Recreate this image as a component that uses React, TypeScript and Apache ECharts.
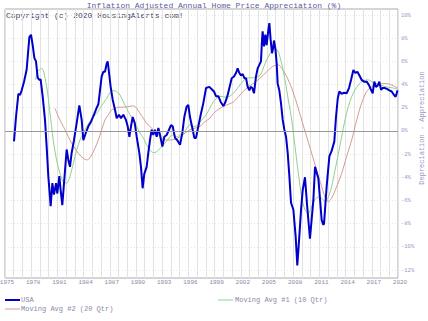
import React, { useEffect, useRef } from "react";
import * as echarts from "echarts";

// USA: inflation adjusted annual home price appreciation (%)
const usaYears = [
  1976.03, 1976.26, 1976.53, 1976.72, 1976.91, 1977.18, 1977.48, 1977.79, 1977.98, 1978.17,
  1978.36, 1978.55, 1978.74, 1978.93, 1979.08, 1979.31, 1979.58, 1979.77, 1979.96, 1980.23,
  1980.42, 1980.61, 1980.84, 1980.99, 1981.22, 1981.37, 1981.56, 1981.79, 1982.06, 1982.25,
  1982.44, 1982.63, 1982.9, 1983.21, 1983.51, 1983.78, 1983.97, 1984.24, 1984.54, 1984.85,
  1985.19, 1985.5, 1985.69, 1985.88, 1986.07, 1986.26, 1986.45, 1986.64, 1986.76, 1986.87,
  1987.1, 1987.33, 1987.6, 1987.79, 1988.05, 1988.28, 1988.55, 1988.85, 1989.05, 1989.24,
  1989.43, 1989.62, 1989.85, 1990.08, 1990.38, 1990.57, 1990.76, 1990.95, 1991.22, 1991.41,
  1991.6, 1991.79, 1991.98, 1992.17, 1992.37, 1992.56, 1992.75, 1993.02, 1993.24, 1993.51,
  1993.78, 1994.01, 1994.2, 1994.47, 1994.73, 1995.04, 1995.3, 1995.53, 1995.8, 1995.99,
  1996.18, 1996.45, 1996.68, 1996.87, 1997.14, 1997.44, 1997.71, 1998.02, 1998.4, 1998.67,
  1998.93, 1999.16, 1999.43, 1999.7, 2000.0, 2000.19, 2000.46, 2000.69, 2000.96, 2001.22,
  2001.45, 2001.64, 2001.83, 2002.02, 2002.22, 2002.41, 2002.6, 2002.79, 2002.98, 2003.13,
  2003.32, 2003.51, 2003.74, 2003.93, 2004.12, 2004.31, 2004.43, 2004.5, 2004.66, 2004.81,
  2004.96, 2005.15, 2005.27, 2005.42, 2005.57, 2005.69, 2005.8, 2005.96, 2006.11, 2006.22,
  2006.41, 2006.6, 2006.8, 2006.99, 2007.18, 2007.37, 2007.56, 2007.75, 2008.02, 2008.28,
  2008.47, 2008.7, 2008.9, 2009.09, 2009.35, 2009.6, 2009.92, 2010.31, 2010.5, 2010.88,
  2011.26, 2011.45, 2011.53, 2011.83, 2012.14, 2012.41, 2012.71, 2012.9, 2013.1, 2013.28,
  2013.55, 2013.82, 2014.12, 2014.39, 2014.62, 2014.89, 2015.12, 2015.35, 2015.57, 2015.84,
  2016.11, 2016.41, 2016.68, 2016.91, 2017.1, 2017.29, 2017.48, 2017.67, 2017.86, 2018.06,
  2018.25, 2018.51, 2018.78, 2019.01, 2019.28, 2019.54, 2019.73, 2019.95,
];
const usaValues = [
  -0.9, 1.2, 3.2, 3.1, 3.5, 4.25, 5.3, 8.1, 8.3, 7.4,
  6.3, 6.0, 4.6, 4.4, 4.45, 3.0, 0.95, -1.35, -3.9, -6.5,
  -4.5, -5.5, -4.5, -5.4, -3.9, -5.1, -6.4, -4.2, -1.6, -2.5,
  -3.1, -1.9, -0.8, 0.7, 2.2, 0.95, -0.8, -0.2, 0.4, 0.8,
  1.4, 2.0, 2.3, 3.5, 4.7, 5.1, 5.1, 5.8, 6.0, 5.3,
  3.8, 2.7, 1.8, 1.1, 1.4, 1.1, 1.4, 0.95, 0.4, -0.5,
  0.4, 1.2, 0.7, -0.5, -1.9, -3.1, -4.95, -3.7, -3.1, -1.9,
  -0.8, 0.1, -0.35, 0.1, -0.5, 0.25, -0.35, -1.35, -0.5, -0.35,
  0.1, 0.5, 0.4, -0.6, -0.8, -1.2, -0.2, 1.2, 2.1, 2.25,
  1.2, 0.25, -0.6, -0.6, 0.4, 1.5, 2.4, 3.7, 3.8, 3.6,
  3.4, 3.0, 3.0, 2.5, 2.15, 2.4, 3.0, 3.7, 4.55, 4.7,
  5.0, 5.4, 5.0, 4.8, 4.9, 4.55, 4.55, 3.8, 3.5, 3.8,
  3.7, 3.25, 4.7, 5.4, 5.7, 6.0, 7.85, 8.6, 7.3, 8.3,
  7.4, 8.7, 9.3, 7.85, 6.7, 7.1, 7.8, 7.1, 5.8, 4.1,
  3.5, 2.4, 0.95, 0.1, -0.5, -1.9, -3.9, -6.2, -6.8, -9.1,
  -11.6, -9.1, -6.8, -5.1, -4.0, -6.5, -9.3, -5.95, -3.1, -4.1,
  -7.7, -8.1, -8.0, -4.8, -2.2, -1.7, -0.9, 1.2, 2.8, 3.4,
  3.2, 3.3, 3.25, 3.7, 4.4, 5.25, 5.0, 5.1, 4.8, 4.4,
  4.25, 4.25, 3.95, 3.55, 3.25, 4.25, 3.8, 3.9, 4.25, 3.55,
  3.7, 3.7, 3.6, 3.5, 3.4, 3.1, 2.95, 3.5,
];

// Moving Avg #1 (10 Qtr)
const ma1Years = [
  1978.51, 1978.7, 1979.2, 1979.77, 1980.15, 1980.53, 1980.9, 1981.3, 1981.68, 1982.06,
  1982.44, 1982.82, 1983.21, 1983.59, 1983.97, 1984.35, 1984.73, 1985.11, 1985.5, 1985.88,
  1986.26, 1986.64, 1987.02, 1987.4, 1987.79, 1988.17, 1988.55, 1988.93, 1989.31, 1989.69,
  1990.08, 1990.46, 1990.84, 1991.22, 1991.6, 1991.98, 1992.37, 1992.75, 1993.13, 1993.51,
  1993.89, 1994.27, 1994.66, 1995.04, 1995.42, 1995.8, 1996.18, 1996.56, 1996.95, 1997.33,
  1997.71, 1998.09, 1998.86, 1999.62, 2000.38, 2001.15, 2001.91, 2002.67, 2003.44, 2004.2,
  2004.77, 2005.35, 2005.92, 2006.3, 2006.68, 2007.06, 2007.44, 2007.83, 2008.21, 2008.59,
  2008.97, 2009.35, 2009.73, 2010.12, 2010.5, 2010.88, 2011.26, 2011.64, 2012.02, 2012.4,
  2012.79, 2013.17, 2013.55, 2013.93, 2014.31, 2014.7, 2015.08, 2015.46, 2016.03, 2016.6,
  2017.18, 2017.94, 2018.7, 2019.47, 2019.95,
];
const ma1Values = [
  4.4, 5.1, 5.4, 3.8, 1.55, -0.8, -2.5, -3.66, -4.4, -4.5,
  -3.9, -2.8, -1.64, -0.78, -0.2, 0.38, 0.8, 1.24, 1.5, 1.96,
  2.4, 2.8, 3.3, 3.48, 3.4, 3.1, 2.5, 1.96, 1.4, 0.95,
  0.38, -0.2, -0.6, -1.2, -1.64, -1.87, -1.8, -1.5, -1.2, -0.9,
  -0.5, -0.35, -0.5, -0.35, -0.2, 0.24, 0.53, 0.38, 0.45, 0.75,
  1.1, 1.45, 2.5, 3.0, 2.9, 3.25, 3.97, 4.55, 4.6, 4.8,
  5.8, 6.67, 7.1, 6.8, 5.8, 4.4, 2.67, 0.95, -1.35, -3.66,
  -5.7, -6.8, -7.1, -6.5, -5.9, -5.7, -5.8, -6.1, -5.7, -4.8,
  -3.4, -1.94, -0.5, 0.95, 2.1, 2.96, 3.54, 3.97, 4.34, 4.4,
  4.17, 3.97, 3.8, 3.7, 3.6,
];

// Moving Avg #2 (20 Qtr)
const ma2Years = [
  1980.72, 1981.11, 1981.49, 1981.87, 1982.25, 1982.63, 1983.01, 1983.4, 1983.97, 1984.43,
  1984.92, 1985.3, 1985.69, 1986.07, 1986.45, 1986.83, 1987.21, 1987.6, 1987.98, 1988.55,
  1989.12, 1989.7, 1990.08, 1990.46, 1990.84, 1991.22, 1991.6, 1991.98, 1992.37, 1992.75,
  1993.32, 1993.89, 1994.47, 1995.04, 1995.61, 1996.18, 1996.76, 1997.33, 1997.9, 1998.47,
  1998.86, 1999.62, 2000.38, 2001.15, 2001.91, 2002.67, 2003.44, 2004.2, 2004.96, 2005.73,
  2006.3, 2006.68, 2007.25, 2007.83, 2008.4, 2008.97, 2009.54, 2010.12, 2010.69, 2011.26,
  2011.64, 2012.02, 2012.4, 2012.98, 2013.55, 2014.12, 2014.7, 2015.27, 2015.84, 2016.41,
  2016.99, 2017.56, 2018.32, 2018.9, 2019.47, 2019.95,
];
const ma2Values = [
  1.96, 1.24, 0.66, 0.1, -0.5, -1.06, -1.5, -1.94, -2.37, -2.5,
  -2.08, -1.5, -0.78, 0.1, 0.95, 1.4, 1.8, 1.96, 2.05, 2.05,
  2.1, 2.16, 1.96, 1.5, 1.1, 0.66, 0.38, 0.1, -0.2, -0.5,
  -0.78, -0.78, -0.72, -0.5, -0.2, 0.1, 0.24, 0.4, 0.8, 1.1,
  1.5, 1.96, 2.24, 2.5, 3.1, 3.7, 4.1, 4.55, 5.1, 5.6,
  5.7, 5.4, 4.7, 3.68, 2.4, 0.95, -0.5, -1.94, -3.4, -4.8,
  -5.7, -6.1, -5.8, -4.8, -3.66, -2.2, -0.78, 0.95, 2.4, 3.4,
  3.8, 3.97, 4.1, 4.05, 3.9, 3.7,
];

const yTickValues = [-12, -10, -8, -6, -4, -2, 0, 2, 4, 6, 8, 10];

const TITLE = "Inflation Adjusted Annual Home Price Appreciation (%)";
const COPYRIGHT = "Copyright (c) 2020 HousingAlerts.com!";
const Y_NAME = "Depreciation - Appreciation";
const NAMES = ["USA", "Moving Avg #1 (10 Qtr)", "Moving Avg #2 (20 Qtr)"];

const MONO = "'Liberation Mono', 'DejaVu Sans Mono', monospace";
const BLUE = "#0000c8";
const GREEN = "#8fd08f";
const RED = "#d49a92";

const zip = (xs: number[], ys: number[]) => xs.map((x, i) => [x, ys[i]]);

export default function App() {
  const ref = useRef<HTMLDivElement>(null);
  useEffect(() => {
    document.body.style.margin = "0";
    if (!ref.current) return;
    const chart = echarts.init(ref.current, null, { renderer: "svg" });
    chart.setOption({
      animation: false,
      backgroundColor: "#ffffff",
      title: {
        text: TITLE,
        left: "center",
        top: 1,
        padding: 0,
        textStyle: { fontFamily: MONO, fontSize: 8, lineHeight: 9, fontWeight: "normal", color: "#5c5ca0" },
      },
      grid: {
        left: 5,
        right: 30,
        top: 9,
        bottom: 43,
        show: true,
        borderColor: "#aaaaaa",
        borderWidth: 1,
        containLabel: false,
        outerBoundsMode: "none",
      },
      xAxis: {
        type: "value",
        min: 1975,
        max: 2020,
        interval: 1,
        axisLine: { show: false },
        axisTick: { show: false },
        axisLabel: {
          margin: 1,
          fontFamily: MONO,
          fontSize: 6,
          color: "#8a8aa8",
          padding: [0, 0, 0, 4],
          formatter: (v: number) => ((Math.round(v) - 1975) % 3 === 0 ? String(Math.round(v)) : ""),
        },
        splitLine: { show: true, lineStyle: { color: "#e2e2e2", width: 1, type: "solid" } },
      },
      yAxis: {
        type: "value",
        position: "right",
        min: -12.69,
        max: 10.52,
        axisLine: { show: false },
        axisTick: { show: false, customValues: yTickValues },
        axisLabel: {
          customValues: yTickValues,
          margin: 3,
          fontFamily: MONO,
          fontSize: 5.5,
          color: "#9a9ac8",
          formatter: (v: number) => `${v}%`,
        },
        splitLine: { show: true, lineStyle: { color: "#e6e6e6", type: [1, 2], width: 1 } },
      },
      graphic: [
        {
          type: "text",
          x: 6,
          y: 15,
          style: { text: COPYRIGHT, font: `8px ${MONO}`, fill: "#40405a", textVerticalAlign: "middle" },
        },
        {
          type: "text",
          x: 422,
          y: 128,
          rotation: Math.PI / 2,
          style: {
            text: Y_NAME,
            font: `7px ${MONO}`,
            fill: "#9a9ac8",
            textAlign: "center",
            textVerticalAlign: "middle",
          },
        },
        { type: "line", shape: { x1: 5, y1: 300, x2: 20, y2: 300 }, style: { stroke: BLUE, lineWidth: 2 } },
        {
          type: "text",
          x: 21,
          y: 300,
          style: { text: NAMES[0], font: `7px ${MONO}`, fill: "#8a8aa8", textVerticalAlign: "middle" },
        },
        { type: "line", shape: { x1: 218, y1: 300, x2: 233, y2: 300 }, style: { stroke: GREEN, lineWidth: 1 } },
        {
          type: "text",
          x: 235,
          y: 300,
          style: { text: NAMES[1], font: `7px ${MONO}`, fill: "#8a8aa8", textVerticalAlign: "middle" },
        },
        { type: "line", shape: { x1: 5, y1: 309, x2: 20, y2: 309 }, style: { stroke: RED, lineWidth: 1 } },
        {
          type: "text",
          x: 21,
          y: 309,
          style: { text: NAMES[2], font: `7px ${MONO}`, fill: "#8a8aa8", textVerticalAlign: "middle" },
        },
      ],
      series: [
        {
          name: NAMES[2],
          type: "line",
          data: zip(ma2Years, ma2Values),
          showSymbol: false,
          smooth: 0.3,
          lineStyle: { color: RED, width: 1 },
          z: 2,
        },
        {
          name: NAMES[1],
          type: "line",
          data: zip(ma1Years, ma1Values),
          showSymbol: false,
          smooth: 0.3,
          lineStyle: { color: GREEN, width: 1 },
          z: 3,
        },
        {
          name: NAMES[0],
          type: "line",
          data: zip(usaYears, usaValues),
          showSymbol: false,
          lineStyle: { color: BLUE, width: 2 },
          z: 4,
          markLine: {
            silent: true,
            symbol: "none",
            label: { show: false },
            lineStyle: { color: "#999999", type: "solid", width: 1 },
            data: [{ yAxis: 0 }],
          },
        },
      ],
    });
    return () => chart.dispose();
  }, []);
  return <div ref={ref} style={{ width: 428, height: 321 }} />;
}
